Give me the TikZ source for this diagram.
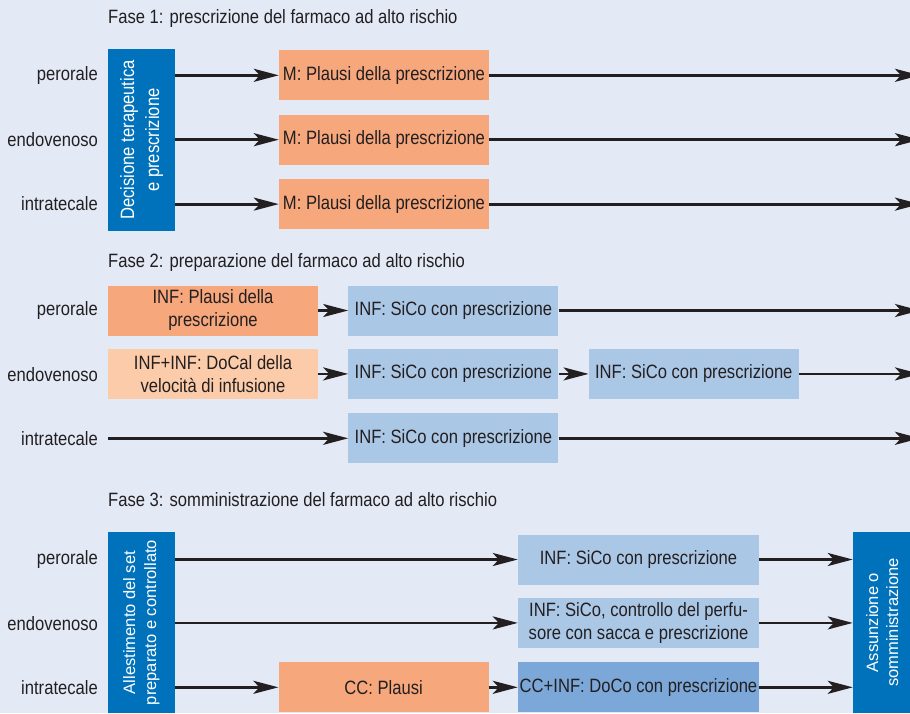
\documentclass[tikz,border=0pt]{standalone}
\usepackage{fontspec}
\setmainfont{Liberation Sans}[FakeStretch=0.86]
\newfontfamily\widesans{Liberation Sans}
\usetikzlibrary{positioning, arrows.meta}

\definecolor{bgblue}{RGB}{227,234,246}
\definecolor{deepblue}{RGB}{0,114,188}
\definecolor{salmon}{RGB}{246,167,124}
\definecolor{peach}{RGB}{252,204,170}
\definecolor{paleblue}{RGB}{171,199,230}
\definecolor{midblue}{RGB}{123,168,217}
\definecolor{ink}{RGB}{35,31,32}

\begin{document}
\begin{tikzpicture}[
    x=1pt, y=-1pt,
    node distance=14pt and 30pt,
    base/.style={font=\fontsize{19.3}{23}\selectfont, text=ink},
    lbl/.style={base, anchor=east, inner sep=0pt},
    title/.style={base, anchor=west, inner sep=0pt},
    stepbox/.style={base, fill=#1, minimum width=210pt, minimum height=50pt, inner sep=1pt, align=center},
    stepbox/.default=paleblue,
    widebox/.style={stepbox=#1, minimum width=241pt},
    widebox/.default=paleblue,
    colbox/.style={fill=deepblue, text=white, inner sep=0pt},
    arrow/.style={-{Stealth[length=25pt, width=13pt, inset=6pt]}, line width=2.8pt, draw=ink}
]

    \clip (0,0) rectangle (910,713);
    \fill[bgblue] (0,0) rectangle (910,713);
    \coordinate (edge) at (920,0);

    % Fase 1
    \node[title] (t1) at (108,18.5) {Fase 1: prescrizione del farmaco ad alto rischio};

    \node[colbox, minimum width=67pt, minimum height=182pt] (dec) at (141.5,140)
        {\fontsize{19.3}{25}\selectfont\rotatebox{90}{\begin{tabular}{@{}c@{}}Decisione terapeutica\\e prescrizione\end{tabular}}};

    \node[stepbox=salmon] (m1) at (384,75.3) {M: Plausi della prescrizione};
    \node[stepbox=salmon, below=of m1] (m2) {M: Plausi della prescrizione};
    \node[stepbox=salmon, below=of m2] (m3) {M: Plausi della prescrizione};

    \node[lbl] (per1) at (98,75.3) {perorale};
    \node[lbl] (end1) at (98,139.3) {endovenoso};
    \node[lbl] (int1) at (98,203.3) {intratecale};

    \draw[arrow] (dec.east |- m1) -- (m1);
    \draw[arrow] (dec.east |- m2) -- (m2);
    \draw[arrow] (dec.east |- m3) -- (m3);
    \draw[arrow] (m1) -- (m1 -| edge);
    \draw[arrow] (m2) -- (m2 -| edge);
    \draw[arrow] (m3) -- (m3 -| edge);

    % Fase 2
    \node[title] (t2) at (108,263) {Fase 2: preparazione del farmaco ad alto rischio};

    \node[stepbox=salmon] (pl) at (213,310.5) {INF: Plausi della\\prescrizione};
    \node[stepbox=peach, below=13pt of pl] (dc) {INF+INF: DoCal della\\velocità di infusione};

    \node[stepbox, right=of pl] (s21) {INF: SiCo con prescrizione};
    \node[stepbox, right=of dc] (s22) {INF: SiCo con prescrizione};
    \node[stepbox, right=of s22] (s23) {INF: SiCo con prescrizione};
    \node[stepbox, below=of s22] (s24) {INF: SiCo con prescrizione};

    \node[lbl] (per2) at (98,310.5) {perorale};
    \node[lbl] (end2) at (98,374.5) {endovenoso};
    \node[lbl] (int2) at (98,439) {intratecale};

    \draw[arrow] (pl) -- (s21);
    \draw[arrow] (s21) -- (s21 -| edge);
    \draw[arrow] (dc) -- (s22);
    \draw[arrow] (s22) -- (s23);
    \draw[arrow] (s23) -- (s23 -| edge);
    \draw[arrow] (pl.west |- s24) -- (s24);
    \draw[arrow] (s24) -- (s24 -| edge);

    % Fase 3
    \node[title] (t3) at (108,500) {Fase 3: somministrazione del farmaco ad alto rischio};

    \node[colbox, minimum width=67pt, minimum height=181pt] (all) at (141.5,622.5)
        {\widesans\fontsize{16.5}{21}\selectfont\rotatebox{90}{\begin{tabular}{@{}c@{}}Allestimento del set\\preparato e controllato\end{tabular}}};
    \node[colbox, minimum width=62pt, minimum height=181pt] (ass) at (884,622.5)
        {\widesans\fontsize{16.5}{20}\selectfont\rotatebox{90}{\begin{tabular}{@{}c@{}}Assunzione o\\somministrazione\end{tabular}}};

    \node[widebox] (b31) at (638.5,559.5) {INF: SiCo con prescrizione};
    \node[widebox, below=13pt of b31] (b32) {INF: SiCo, controllo del perfu-\\sore con sacca e prescrizione};
    \node[widebox=midblue, below=of b32] (b33) {CC+INF: DoCo con prescrizione};
    \node[stepbox=salmon, left=29pt of b33] (cc) {CC: Plausi};

    \node[lbl] (per3) at (98,559.5) {perorale};
    \node[lbl] (end3) at (98,623.5) {endovenoso};
    \node[lbl] (int3) at (98,688) {intratecale};

    \draw[arrow] (all.east |- b31) -- (b31);
    \draw[arrow] (all.east |- b32) -- (b32);
    \draw[arrow] (all.east |- cc) -- (cc);
    \draw[arrow] (cc) -- (b33);
    \draw[arrow] (b31) -- (b31 -| ass.west);
    \draw[arrow] (b32) -- (b32 -| ass.west);
    \draw[arrow] (b33) -- (b33 -| ass.west);

\end{tikzpicture}
\end{document}
